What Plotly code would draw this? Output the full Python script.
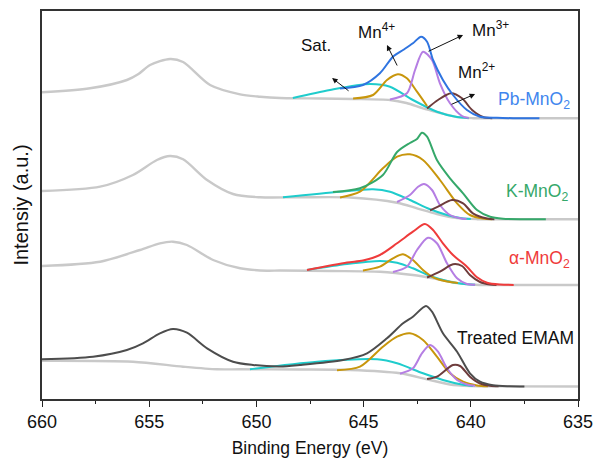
import plotly.graph_objects as go

# ---------------- data (binding energy in eV, intensity in a.u. incl. stacking offset) -------------
# Pb-MnO2
PB_BG_E = [660, 657.76, 656.04, 655.5, 654.96, 654.03, 653.42, 652.16, 650.76, 649.83, 648.9, 647.0, 645.5, 643.77, 643.0, 642.23, 641.5, 640.64, 639.9, 639.0, 635]
PB_BG_I = [306.7, 310.7, 319, 325, 334, 340, 337, 314, 304.7, 302.3, 301, 300.5, 300, 299, 296, 290.7, 286.5, 281.9, 280.8, 280.7, 280.7]
PB_SAT_E = [648.3, 646.57, 644.70, 643.77, 642.70, 641.58, 640.64, 640.1]
PB_SAT_I = [301.0, 309, 315, 312.3, 299, 287.3, 281.9, 280.8]
PB_MN4_E = [645.49, 644.56, 643.91, 643.40, 642.98, 642.51, 642.04]
PB_MN4_I = [300.5, 304, 319, 324.7, 320.7, 307.3, 293]
PB_MN3_E = [643.77, 642.98, 642.60, 642.23, 641.81, 641.44, 640.97, 640.41, 640.1]
PB_MN3_I = [299.5, 305.7, 329, 347.3, 339, 315.7, 295.7, 283.0, 281.0]
PB_MN2_E = [642.04, 641.53, 640.92, 640.41, 639.94, 639.43, 639.0]
PB_MN2_I = [290.5, 299, 305.7, 300.7, 289, 282.0, 280.8]
PB_ENV_E = [646.1, 645.03, 644.24, 643.63, 643.16, 642.70, 642.32, 642.04, 641.76, 641.30, 640.83, 640.18, 639.57, 638.78, 638.03, 636.8]
PB_ENV_I = [310.5, 314, 325.7, 342.3, 349, 355.7, 362.3, 357.3, 339, 319, 304, 289, 282.3, 281.2, 280.8, 280.7]

# K-MnO2
K_BG_E = [660, 657.29, 655.76, 654.64, 654.03, 653.42, 652.30, 651.09, 649.83, 647.97, 645.63, 643.44, 642.51, 641.58, 640.64, 639.7, 639.0, 635]
K_BG_I = [208, 212.3, 224, 239, 243, 239.7, 219, 205, 201.7, 201.7, 201.5, 196.3, 190.7, 185, 180.9, 179.8, 179.7, 179.7]
K_SAT_E = [648.76, 646.10, 644.56, 643.77, 642.84, 641.90, 641.11, 640.36, 640.0]
K_SAT_I = [201.8, 207.3, 209.7, 207.3, 199, 189.7, 184, 180.6, 179.9]
K_MN4_E = [646.10, 645.17, 644.10, 643.44, 642.84, 642.23, 641.44, 640.64, 640.04, 639.43, 639.0]
K_MN4_I = [201.6, 207.3, 230.7, 242.3, 244.7, 239, 219, 195.7, 184, 180.4, 179.8]
K_MN3_E = [643.44, 642.84, 642.46, 642.18, 641.81, 641.44, 640.97, 640.50, 640.2]
K_MN3_I = [197.0, 204, 212.3, 215, 209, 194, 184, 180.8, 180.0]
K_MN2_E = [641.90, 641.53, 640.88, 640.36, 639.90, 639.24, 638.9]
K_MN2_I = [188.6, 192.3, 199, 195.7, 185.7, 180.5, 179.8]
K_ENV_E = [646.43, 645.17, 644.10, 643.44, 642.84, 642.51, 642.28, 642.04, 641.58, 640.97, 640.36, 639.71, 639.10, 638.50, 637.5, 636.5]
K_ENV_I = [207.0, 210.7, 224, 247, 256, 260, 266.3, 262.3, 239, 220.7, 205.7, 189, 182.3, 180.3, 179.8, 179.7]

# alpha-MnO2
A_BG_E = [660, 657.29, 655.43, 654.50, 653.89, 653.24, 652.02, 650.76, 649.51, 648.9, 646.5, 644.24, 642.70, 641.76, 640.64, 639.8, 639.0, 635]
A_BG_I = [133, 137.3, 149, 155.7, 157.3, 154, 139, 130.7, 128.3, 128.5, 128, 127.3, 124, 120.7, 115.9, 114.2, 114, 114]
A_SAT_E = [647.64, 645.77, 644.24, 643.44, 642.70, 641.90, 640.97, 640.18, 639.8]
A_SAT_I = [129.0, 135, 138, 136.3, 130.7, 123, 117.3, 114.8, 114.2]
A_MN4_E = [645.03, 644.24, 643.63, 643.16, 642.70, 642.23, 641.76, 641.11, 640.6]
A_MN4_I = [128.5, 132.3, 140.7, 144.7, 139, 129, 121.7, 117.5, 116.0]
A_MN3_E = [643.63, 642.98, 642.51, 642.00, 641.58, 641.11, 640.64, 640.18, 639.8]
A_MN3_I = [127.0, 132.3, 149, 161.3, 155.7, 135.7, 120.7, 115.0, 114.2]
A_MN2_E = [642.04, 641.44, 640.83, 640.41, 640.04, 639.57, 639.10, 638.8]
A_MN2_I = [121.5, 127.3, 134.7, 133, 124, 117.0, 114.6, 114.1]
A_ENV_E = [647.64, 645.77, 645.03, 644.24, 643.44, 642.70, 642.14, 641.76, 641.30, 640.83, 640.18, 639.71, 639.24, 638.64, 638.0]
A_ENV_I = [129.0, 136.5, 138.5, 144, 155.7, 167.3, 175, 169, 155.7, 144, 132.3, 121.7, 116.3, 114.5, 114.1]

# Treated EMAM
T_BG_E = [660, 655.76, 653.42, 651.84, 650.76, 648.0, 645.63, 643.30, 642.04, 640.97, 640.0, 639.0, 635]
T_BG_I = [38.3, 37.3, 32.3, 29.7, 29.7, 29.5, 29, 25.7, 19.7, 14.5, 13.0, 12.6, 12.5]
T_SAT_E = [650.30, 647.17, 644.37, 643.44, 642.23, 641.30, 640.36, 639.9]
T_SAT_I = [29.7, 37.3, 39.7, 35.7, 25.7, 19, 14.2, 13.0]
T_MN4_E = [646.24, 645.17, 644.10, 643.44, 642.84, 642.23, 641.58, 640.97, 640.36, 639.71, 639.2]
T_MN4_I = [28.8, 32.3, 52.3, 62.3, 65.7, 59, 42.3, 25.7, 17.3, 13.6, 12.8]
T_MN3_E = [643.30, 642.70, 642.28, 641.90, 641.53, 641.11, 640.64, 640.18, 639.8]
T_MN3_I = [25.3, 30.7, 45.7, 54, 47.3, 30.7, 19, 14.5, 13.2]
T_MN2_E = [642.04, 641.58, 640.83, 640.50, 640.04, 639.57, 639.10, 638.7]
T_MN2_I = [19.9, 22.3, 34, 33, 22.3, 15.5, 13.3, 12.7]
T_ENV_E = [660, 657.62, 656.04, 655.29, 654.50, 653.89, 653.24, 652.30, 651.09, 650.16, 648.90, 647.97, 645.96, 644.84, 643.91, 643.16, 642.70, 642.09, 641.81, 641.30, 640.64, 640.04, 639.57, 638.96, 638.2, 637.5]
T_ENV_I = [39.7, 42.3, 49, 55.7, 65.7, 70, 66.3, 50.7, 37.3, 34, 32.5, 34, 39, 45.7, 60.7, 75.7, 82.3, 93, 87.3, 65.7, 47.3, 25.7, 17.3, 13.8, 12.8, 12.6]

SAMPLE_LABELS = ["Pb-MnO<sub>2</sub>", "K-MnO<sub>2</sub>", "α-MnO<sub>2</sub>", "Treated EMAM"]
SAMPLE_LABEL_E = [637.03, 636.9, 636.8, 637.9]
SAMPLE_LABEL_I = [299, 207, 140, 61]
PEAK_LABELS = ["Sat.", "Mn<sup>4+</sup>", "Mn<sup>3+</sup>", "Mn<sup>2+</sup>"]
PEAK_LABEL_E = [647.24, 644.42, 639.1, 639.73]
PEAK_LABEL_I = [354, 368, 370, 328]
ARROW_TAIL_E = [645.63, 643.40, 642.04, 640.97]
ARROW_TAIL_I = [307, 332, 347, 294]
ARROW_HEAD_E = [646.47, 643.91, 640.36, 639.80]
ARROW_HEAD_I = [321, 354, 364, 305]

# ---------------- styles -------------
C_BG = "#c9c9c9"
C_SAT = "#1fcccc"
C_MN4 = "#c8960c"
C_MN3 = "#b57ee3"
C_MN2 = "#6e3c3c"
ENV_COLORS = ["#2f74e0", "#35a86a", "#ef3b3b", "#4d4d4d"]
LABEL_COLORS = ["#3f86ee", "#35a86a", "#ef3b3b", "#111111"]

spectra = [
    (PB_BG_E, PB_BG_I, PB_SAT_E, PB_SAT_I, PB_MN4_E, PB_MN4_I, PB_MN3_E, PB_MN3_I, PB_MN2_E, PB_MN2_I, PB_ENV_E, PB_ENV_I),
    (K_BG_E, K_BG_I, K_SAT_E, K_SAT_I, K_MN4_E, K_MN4_I, K_MN3_E, K_MN3_I, K_MN2_E, K_MN2_I, K_ENV_E, K_ENV_I),
    (A_BG_E, A_BG_I, A_SAT_E, A_SAT_I, A_MN4_E, A_MN4_I, A_MN3_E, A_MN3_I, A_MN2_E, A_MN2_I, A_ENV_E, A_ENV_I),
    (T_BG_E, T_BG_I, T_SAT_E, T_SAT_I, T_MN4_E, T_MN4_I, T_MN3_E, T_MN3_I, T_MN2_E, T_MN2_I, T_ENV_E, T_ENV_I),
]

fig = go.Figure()

def add(xs, ys, color, width=2.0):
    fig.add_trace(go.Scatter(x=xs, y=ys, mode="lines", line=dict(color=color, width=width, shape="spline", smoothing=0.8),
                             hoverinfo="skip", showlegend=False))

for i, s in enumerate(spectra):
    bgE, bgI, satE, satI, m4E, m4I, m3E, m3I, m2E, m2I, envE, envI = s
    add(bgE, bgI, C_BG, 2.4)
    add(satE, satI, C_SAT)
    add(m4E, m4I, C_MN4)
    add(m3E, m3I, C_MN3)
    add(m2E, m2I, C_MN2)
    add(envE, envI, ENV_COLORS[i])

annotations = []
for t, x, y, c in zip(SAMPLE_LABELS, SAMPLE_LABEL_E, SAMPLE_LABEL_I, LABEL_COLORS):
    annotations.append(dict(x=x, y=y, xref="x", yref="y", text=t, showarrow=False,
                            font=dict(size=17.5, color=c), xanchor="center", yanchor="middle"))
for t, x, y in zip(PEAK_LABELS, PEAK_LABEL_E, PEAK_LABEL_I):
    annotations.append(dict(x=x, y=y, xref="x", yref="y", text=t, showarrow=False,
                            font=dict(size=17, color="#111111"), xanchor="center", yanchor="middle"))
for tx, ty, hx, hy in zip(ARROW_TAIL_E, ARROW_TAIL_I, ARROW_HEAD_E, ARROW_HEAD_I):
    annotations.append(dict(x=hx, y=hy, ax=tx, ay=ty, xref="x", yref="y", axref="x", ayref="y", text="",
                            showarrow=True, arrowhead=2, arrowsize=1.1, arrowwidth=1, arrowcolor="#111111"))

fig.update_layout(
    width=596, height=458,
    margin=dict(l=42, r=18, t=11, b=59),
    paper_bgcolor="white", plot_bgcolor="white",
    font=dict(family="Liberation Sans, Arial, sans-serif", color="#111111"),
    annotations=annotations,
    showlegend=False,
)
fig.update_xaxes(range=[660, 635], tickmode="linear", tick0=635, dtick=5,
                 ticks="outside", ticklen=6, tickwidth=1.2, tickcolor="#222222",
                 minor=dict(ticks="outside", ticklen=3, tickwidth=1.2, tickcolor="#222222", dtick=2.5, tick0=635),
                 showline=True, linecolor="#333333", linewidth=1.5, mirror=True,
                 showgrid=False, zeroline=False, automargin=False,
                 tickfont=dict(size=18, color="#111111"),
                 title=dict(text="Binding Energy (eV)", font=dict(size=17.5, color="#111111"), standoff=10))
fig.update_yaxes(range=[0, 388], showticklabels=False, ticks="",
                 showline=True, linecolor="#333333", linewidth=1.5, mirror=True,
                 showgrid=False, zeroline=False, automargin=False,
                 title=dict(text="Intensiy (a.u.)", font=dict(size=20, color="#111111"), standoff=6))

fig.write_html("out.html", config={"displayModeBar": False},
               post_script="document.body.style.margin='0px';document.body.style.overflow='hidden';")
